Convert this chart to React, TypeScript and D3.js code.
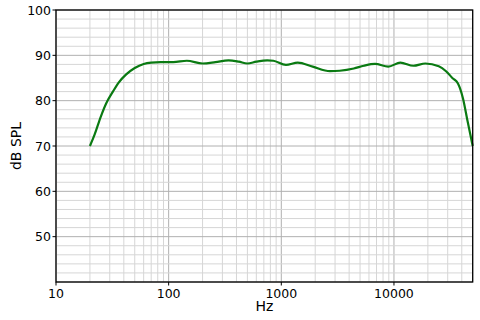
import React from "react";
import * as d3 from "d3";

const freqs = [20, 22, 25, 28, 32, 36, 42, 50, 60, 70, 85, 110, 145, 200, 260, 340, 420, 500, 600, 750, 850, 1100, 1400, 1900, 2700, 3300, 4400, 5400, 6800, 8900, 11400, 14900, 19000, 25000, 29000, 33000, 37000, 41000, 45000, 50000];
const spl = [70, 72.5, 76.5, 79.5, 82, 84, 85.8, 87.2, 88.1, 88.4, 88.5, 88.5, 88.8, 88.2, 88.5, 88.9, 88.6, 88.2, 88.6, 88.9, 88.8, 87.9, 88.4, 87.5, 86.5, 86.6, 87.1, 87.7, 88.1, 87.5, 88.4, 87.7, 88.2, 87.6, 86.5, 85, 83.8, 80.5, 75.5, 70];
const xTicks = [10, 100, 1000, 10000];
const yTicks = [50, 60, 70, 80, 90, 100];

const W = 480, H = 320;
const L = 56, R = 472.7, T = 10, B = 282;

export default function App() {
  const x = d3.scaleLog().domain([10, 50000]).range([L, R]);
  const y = d3.scaleLinear().domain([40, 100]).range([B, T]);
  const minorX: number[] = [];
  for (let d = 10; d < 50000; d *= 10) for (let k = 1; k <= 9; k++) { const v = d * k; if (v <= 50000) minorX.push(v); }
  const minorY: number[] = [];
  for (let v = 40; v <= 100; v += 2) minorY.push(v);
  const line = d3.line<number>().x((_, i) => x(freqs[i])).y((d) => y(d)).curve(d3.curveMonotoneX);
  const font = "DejaVu Sans, sans-serif";
  return (
    <svg width={W} height={H} style={{ position: "absolute", left: 0, top: 0, background: "#fff" }}>
      {minorX.map((v) => (
        <line key={"mx" + v} x1={x(v)} x2={x(v)} y1={T} y2={B} stroke={xTicks.includes(v) ? "#b0b0b0" : "#d6d6d6"} strokeWidth={1} />
      ))}
      {minorY.map((v) => (
        <line key={"my" + v} x1={L} x2={R} y1={y(v)} y2={y(v)} stroke={v % 10 === 0 ? "#b0b0b0" : "#d6d6d6"} strokeWidth={1} />
      ))}
      <path d={line(spl) || ""} fill="none" stroke="#0a7a12" strokeWidth={2.2} />
      <rect x={L} y={T} width={R - L} height={B - T} fill="none" stroke="#000" strokeWidth={1.3} />
      {yTicks.map((v) => (
        <g key={"yt" + v}>
          <line x1={L - 3.5} x2={L} y1={y(v)} y2={y(v)} stroke="#000" />
          <text x={L - 5} y={y(v)} dy="0.36em" textAnchor="end" fontFamily={font} fontSize={12.5} fill="#000">{v}</text>
        </g>
      ))}
      {xTicks.map((v) => (
        <g key={"xt" + v}>
          <line x1={x(v)} x2={x(v)} y1={B} y2={B + 3.5} stroke="#000" />
          <text x={x(v)} y={B + 16} textAnchor="middle" fontFamily={font} fontSize={12.5} fill="#000">{v}</text>
        </g>
      ))}
      <text x={(L + R) / 2} y={311} textAnchor="middle" fontFamily={font} fontSize={14} fill="#000">Hz</text>
      <text transform={`translate(21,${(T + B) / 2}) rotate(-90)`} textAnchor="middle" fontFamily={font} fontSize={14} fill="#000">dB SPL</text>
    </svg>
  );
}
